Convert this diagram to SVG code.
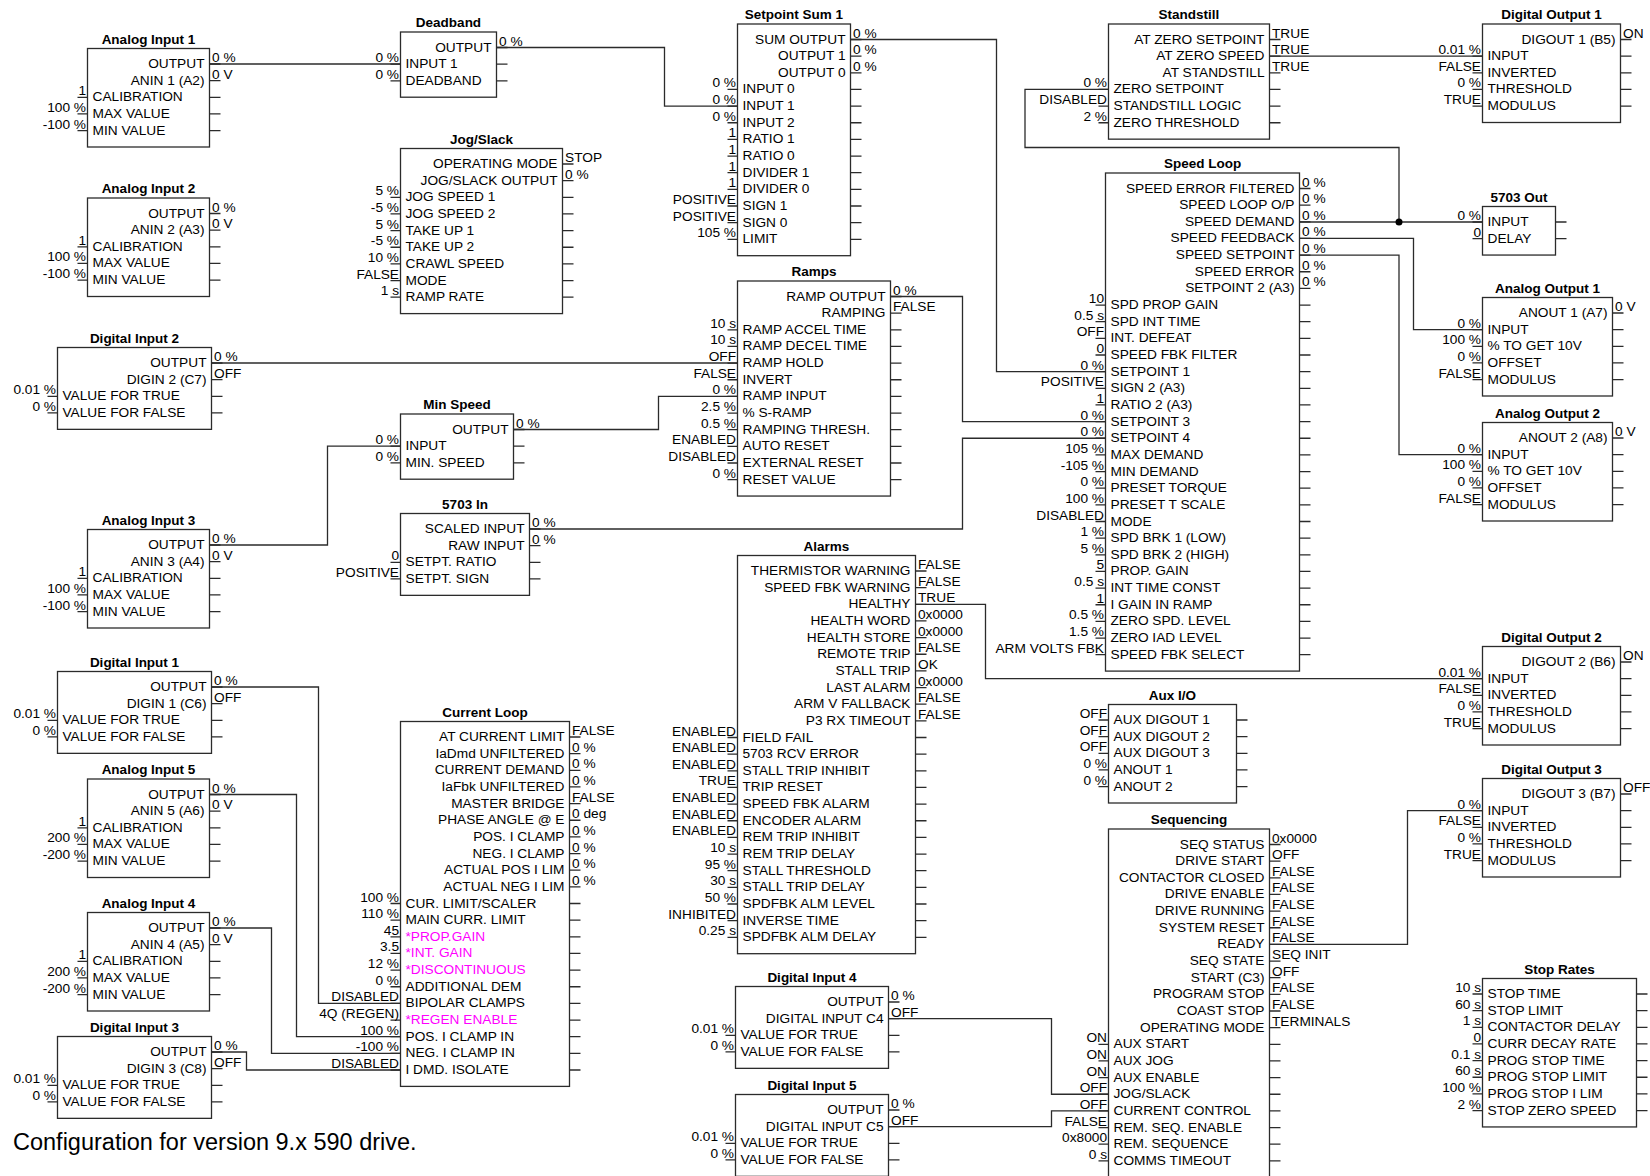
<svg xmlns="http://www.w3.org/2000/svg" width="1650" height="1176" viewBox="0 0 1650 1176">
<style>
text{font-family:"Liberation Sans",Arial,sans-serif;font-size:13.7px;fill:#000}
.t{font-weight:bold;font-size:13.5px;text-anchor:middle}
.r{text-anchor:end}
.m{fill:#f0f}
.b{fill:#fff;stroke:#2b2b2b;stroke-width:1.3}
.s{fill:none;stroke:#2b2b2b;stroke-width:1.3}
</style>
<rect width="1650" height="1176" fill="#fff"/>
<g id="connectors">
<path class="s" d="M209.5 64H400.5"/>
<path class="s" d="M496.5 47.5H664.5V106.1H737.5"/>
<path class="s" d="M211.5 363H737.5"/>
<path class="s" d="M209.5 545H327.5V446.15H400.5"/>
<path class="s" d="M513.5 429.5H658.5V396.4H737.5"/>
<path class="s" d="M850.5 39.5H996.5V371.65H1105.5"/>
<path class="s" d="M890.5 296.5H962.5V421.6H1105.5"/>
<path class="s" d="M529.5 529H962.5V438.25H1105.5"/>
<path class="s" d="M1269.5 56.15H1482.5"/>
<path class="s" d="M1299.5 222H1482.5"/>
<path class="s" d="M1399 222V147.5H1025V89.45H1108.5"/>
<path class="s" d="M1299.5 238.45H1413.5V329.65H1482.5"/>
<path class="s" d="M1299.5 255.1H1399V454.65H1482.5"/>
<path class="s" d="M915.5 604.3H985.5V678.65H1482.5"/>
<path class="s" d="M211.5 687H318.5V1003.4H400.5"/>
<path class="s" d="M209.5 794.5H296.5V1036.7H400.5"/>
<path class="s" d="M209.5 928H271.5V1053.35H400.5"/>
<path class="s" d="M211.5 1052H246.5V1070H400.5"/>
<path class="s" d="M888.5 1018.65H1051.5V1094.25H1108.5"/>
<path class="s" d="M888.5 1126.65H1051.5V1110.9H1108.5"/>
<path class="s" d="M1269.5 944.4H1407.5V810.65H1482.5"/>
<circle cx="1399" cy="222" r="3.5" fill="#000"/>
</g>

<g id="analog-input-1" transform="translate(87.5 48.5)">
<rect class="b" width="122" height="98.5"/>
<text class="t" x="61" y="-5">Analog Input 1</text>
<text class="r" x="117" y="19.5">OUTPUT</text><text class="r" x="117" y="36.15">ANIN 1 (A2)</text>
<text x="5" y="52.8">CALIBRATION</text><text x="5" y="69.45">MAX VALUE</text><text x="5" y="86.1">MIN VALUE</text>
<path class="s" d="M122 15.5h11m-11 16.65h11m-11 16.65h11m-11 16.65h11m-11 16.65h11M-10 48.8h10m-10 16.65h10m-10 16.65h10"/>
<text x="124.5" y="13.5">0 %</text><text x="124.5" y="30.15">0 V</text>
<text class="r" x="-1.5" y="46.8">1</text><text class="r" x="-1.5" y="63.45">100 %</text><text class="r" x="-1.5" y="80.1">-100 %</text>
</g>

<g id="analog-input-2" transform="translate(87.5 198)">
<rect class="b" width="122" height="98.5"/>
<text class="t" x="61" y="-5">Analog Input 2</text>
<text class="r" x="117" y="19.5">OUTPUT</text><text class="r" x="117" y="36.15">ANIN 2 (A3)</text>
<text x="5" y="52.8">CALIBRATION</text><text x="5" y="69.45">MAX VALUE</text><text x="5" y="86.1">MIN VALUE</text>
<path class="s" d="M122 15.5h11m-11 16.65h11m-11 16.65h11m-11 16.65h11m-11 16.65h11M-10 48.8h10m-10 16.65h10m-10 16.65h10"/>
<text x="124.5" y="13.5">0 %</text><text x="124.5" y="30.15">0 V</text>
<text class="r" x="-1.5" y="46.8">1</text><text class="r" x="-1.5" y="63.45">100 %</text><text class="r" x="-1.5" y="80.1">-100 %</text>
</g>

<g id="analog-input-3" transform="translate(87.5 529.5)">
<rect class="b" width="122" height="98.5"/>
<text class="t" x="61" y="-5">Analog Input 3</text>
<text class="r" x="117" y="19.5">OUTPUT</text><text class="r" x="117" y="36.15">ANIN 3 (A4)</text>
<text x="5" y="52.8">CALIBRATION</text><text x="5" y="69.45">MAX VALUE</text><text x="5" y="86.1">MIN VALUE</text>
<path class="s" d="M122 15.5h11m-11 16.65h11m-11 16.65h11m-11 16.65h11m-11 16.65h11M-10 48.8h10m-10 16.65h10m-10 16.65h10"/>
<text x="124.5" y="13.5">0 %</text><text x="124.5" y="30.15">0 V</text>
<text class="r" x="-1.5" y="46.8">1</text><text class="r" x="-1.5" y="63.45">100 %</text><text class="r" x="-1.5" y="80.1">-100 %</text>
</g>

<g id="analog-input-5" transform="translate(87.5 779)">
<rect class="b" width="122" height="98.5"/>
<text class="t" x="61" y="-5">Analog Input 5</text>
<text class="r" x="117" y="19.5">OUTPUT</text><text class="r" x="117" y="36.15">ANIN 5 (A6)</text>
<text x="5" y="52.8">CALIBRATION</text><text x="5" y="69.45">MAX VALUE</text><text x="5" y="86.1">MIN VALUE</text>
<path class="s" d="M122 15.5h11m-11 16.65h11m-11 16.65h11m-11 16.65h11m-11 16.65h11M-10 48.8h10m-10 16.65h10m-10 16.65h10"/>
<text x="124.5" y="13.5">0 %</text><text x="124.5" y="30.15">0 V</text>
<text class="r" x="-1.5" y="46.8">1</text><text class="r" x="-1.5" y="63.45">200 %</text><text class="r" x="-1.5" y="80.1">-200 %</text>
</g>

<g id="analog-input-4" transform="translate(87.5 912.5)">
<rect class="b" width="122" height="98.5"/>
<text class="t" x="61" y="-5">Analog Input 4</text>
<text class="r" x="117" y="19.5">OUTPUT</text><text class="r" x="117" y="36.15">ANIN 4 (A5)</text>
<text x="5" y="52.8">CALIBRATION</text><text x="5" y="69.45">MAX VALUE</text><text x="5" y="86.1">MIN VALUE</text>
<path class="s" d="M122 15.5h11m-11 16.65h11m-11 16.65h11m-11 16.65h11m-11 16.65h11M-10 48.8h10m-10 16.65h10m-10 16.65h10"/>
<text x="124.5" y="13.5">0 %</text><text x="124.5" y="30.15">0 V</text>
<text class="r" x="-1.5" y="46.8">1</text><text class="r" x="-1.5" y="63.45">200 %</text><text class="r" x="-1.5" y="80.1">-200 %</text>
</g>

<g id="digital-input-2" transform="translate(57.5 347.5)">
<rect class="b" width="154" height="81.85"/>
<text class="t" x="77" y="-5">Digital Input 2</text>
<text class="r" x="149" y="19.5">OUTPUT</text><text class="r" x="149" y="36.15">DIGIN 2 (C7)</text>
<text x="5" y="52.8">VALUE FOR TRUE</text><text x="5" y="69.45">VALUE FOR FALSE</text>
<path class="s" d="M154 15.5h11m-11 16.65h11m-11 16.65h11m-11 16.65h11M-10 48.8h10m-10 16.65h10"/>
<text x="156.5" y="13.5">0 %</text><text x="156.5" y="30.15">OFF</text>
<text class="r" x="-1.5" y="46.8">0.01 %</text><text class="r" x="-1.5" y="63.45">0 %</text>
</g>

<g id="digital-input-1" transform="translate(57.5 671.5)">
<rect class="b" width="154" height="81.85"/>
<text class="t" x="77" y="-5">Digital Input 1</text>
<text class="r" x="149" y="19.5">OUTPUT</text><text class="r" x="149" y="36.15">DIGIN 1 (C6)</text>
<text x="5" y="52.8">VALUE FOR TRUE</text><text x="5" y="69.45">VALUE FOR FALSE</text>
<path class="s" d="M154 15.5h11m-11 16.65h11m-11 16.65h11m-11 16.65h11M-10 48.8h10m-10 16.65h10"/>
<text x="156.5" y="13.5">0 %</text><text x="156.5" y="30.15">OFF</text>
<text class="r" x="-1.5" y="46.8">0.01 %</text><text class="r" x="-1.5" y="63.45">0 %</text>
</g>

<g id="digital-input-3" transform="translate(57.5 1036.5)">
<rect class="b" width="154" height="81.85"/>
<text class="t" x="77" y="-5">Digital Input 3</text>
<text class="r" x="149" y="19.5">OUTPUT</text><text class="r" x="149" y="36.15">DIGIN 3 (C8)</text>
<text x="5" y="52.8">VALUE FOR TRUE</text><text x="5" y="69.45">VALUE FOR FALSE</text>
<path class="s" d="M154 15.5h11m-11 16.65h11m-11 16.65h11m-11 16.65h11M-10 48.8h10m-10 16.65h10"/>
<text x="156.5" y="13.5">0 %</text><text x="156.5" y="30.15">OFF</text>
<text class="r" x="-1.5" y="46.8">0.01 %</text><text class="r" x="-1.5" y="63.45">0 %</text>
</g>

<g id="deadband" transform="translate(400.5 32)">
<rect class="b" width="96" height="65.2"/>
<text class="t" x="48" y="-5">Deadband</text>
<text class="r" x="91" y="19.5">OUTPUT</text>
<text x="5" y="36.15">INPUT 1</text><text x="5" y="52.8">DEADBAND</text>
<path class="s" d="M96 15.5h11m-11 16.65h11m-11 16.65h11M-10 32.15h10m-10 16.65h10"/>
<text x="98.5" y="13.5">0 %</text>
<text class="r" x="-1.5" y="30.15">0 %</text><text class="r" x="-1.5" y="46.8">0 %</text>
</g>

<g id="jog-slack" transform="translate(400.5 148.5)">
<rect class="b" width="162" height="165.1"/>
<text class="t" x="81" y="-5">Jog/Slack</text>
<text class="r" x="157" y="19.5">OPERATING MODE</text><text class="r" x="157" y="36.15">JOG/SLACK OUTPUT</text>
<text x="5" y="52.8">JOG SPEED 1</text><text x="5" y="69.45">JOG SPEED 2</text><text x="5" y="86.1">TAKE UP 1</text><text x="5" y="102.75">TAKE UP 2</text><text x="5" y="119.4">CRAWL SPEED</text><text x="5" y="136.05">MODE</text><text x="5" y="152.7">RAMP RATE</text>
<path class="s" d="M162 15.5h11m-11 16.65h11m-11 16.65h11m-11 16.65h11m-11 16.65h11m-11 16.65h11m-11 16.65h11m-11 16.65h11m-11 16.65h11M-10 48.8h10m-10 16.65h10m-10 16.65h10m-10 16.65h10m-10 16.65h10m-10 16.65h10m-10 16.65h10"/>
<text x="164.5" y="13.5">STOP</text><text x="164.5" y="30.15">0 %</text>
<text class="r" x="-1.5" y="46.8">5 %</text><text class="r" x="-1.5" y="63.45">-5 %</text><text class="r" x="-1.5" y="80.1">5 %</text><text class="r" x="-1.5" y="96.75">-5 %</text><text class="r" x="-1.5" y="113.4">10 %</text><text class="r" x="-1.5" y="130.05">FALSE</text><text class="r" x="-1.5" y="146.7">1 s</text>
</g>

<g id="min-speed" transform="translate(400.5 414)">
<rect class="b" width="113" height="65.2"/>
<text class="t" x="56.5" y="-5">Min Speed</text>
<text class="r" x="108" y="19.5">OUTPUT</text>
<text x="5" y="36.15">INPUT</text><text x="5" y="52.8">MIN. SPEED</text>
<path class="s" d="M113 15.5h11m-11 16.65h11m-11 16.65h11M-10 32.15h10m-10 16.65h10"/>
<text x="115.5" y="13.5">0 %</text>
<text class="r" x="-1.5" y="30.15">0 %</text><text class="r" x="-1.5" y="46.8">0 %</text>
</g>

<g id="in-5703" transform="translate(400.5 513.5)">
<rect class="b" width="129" height="81.85"/>
<text class="t" x="64.5" y="-5">5703 In</text>
<text class="r" x="124" y="19.5">SCALED INPUT</text><text class="r" x="124" y="36.15">RAW INPUT</text>
<text x="5" y="52.8">SETPT. RATIO</text><text x="5" y="69.45">SETPT. SIGN</text>
<path class="s" d="M129 15.5h11m-11 16.65h11m-11 16.65h11m-11 16.65h11M-10 48.8h10m-10 16.65h10"/>
<text x="131.5" y="13.5">0 %</text><text x="131.5" y="30.15">0 %</text>
<text class="r" x="-1.5" y="46.8">0</text><text class="r" x="-1.5" y="63.45">POSITIVE</text>
</g>

<g id="current-loop" transform="translate(400.5 721.5)">
<rect class="b" width="169" height="364.9"/>
<text class="t" x="84.5" y="-5">Current Loop</text>
<text class="r" x="164" y="19.5">AT CURRENT LIMIT</text><text class="r" x="164" y="36.15">IaDmd UNFILTERED</text><text class="r" x="164" y="52.8">CURRENT DEMAND</text><text class="r" x="164" y="69.45">IaFbk UNFILTERED</text><text class="r" x="164" y="86.1">MASTER BRIDGE</text><text class="r" x="164" y="102.75">PHASE ANGLE @ E</text><text class="r" x="164" y="119.4">POS. I CLAMP</text><text class="r" x="164" y="136.05">NEG. I CLAMP</text><text class="r" x="164" y="152.7">ACTUAL POS I LIM</text><text class="r" x="164" y="169.35">ACTUAL NEG I LIM</text>
<text x="5" y="186">CUR. LIMIT/SCALER</text><text x="5" y="202.65">MAIN CURR. LIMIT</text><text class="m" x="5" y="219.3">*PROP.GAIN</text><text class="m" x="5" y="235.95">*INT. GAIN</text><text class="m" x="5" y="252.6">*DISCONTINUOUS</text><text x="5" y="269.25">ADDITIONAL DEM</text><text x="5" y="285.9">BIPOLAR CLAMPS</text><text class="m" x="5" y="302.55">*REGEN ENABLE</text><text x="5" y="319.2">POS. I CLAMP IN</text><text x="5" y="335.85">NEG. I CLAMP IN</text><text x="5" y="352.5">I DMD. ISOLATE</text>
<path class="s" d="M169 15.5h11m-11 16.65h11m-11 16.65h11m-11 16.65h11m-11 16.65h11m-11 16.65h11m-11 16.65h11m-11 16.65h11m-11 16.65h11m-11 16.65h11m-11 16.65h11m-11 16.65h11m-11 16.65h11m-11 16.65h11m-11 16.65h11m-11 16.65h11m-11 16.65h11m-11 16.65h11m-11 16.65h11m-11 16.65h11m-11 16.65h11M-10 182h10m-10 16.65h10m-10 16.65h10m-10 16.65h10m-10 16.65h10m-10 16.65h10m-10 16.65h10m-10 16.65h10m-10 16.65h10m-10 16.65h10m-10 16.65h10"/>
<text x="171.5" y="13.5">FALSE</text><text x="171.5" y="30.15">0 %</text><text x="171.5" y="46.8">0 %</text><text x="171.5" y="63.45">0 %</text><text x="171.5" y="80.1">FALSE</text><text x="171.5" y="96.75">0 deg</text><text x="171.5" y="113.4">0 %</text><text x="171.5" y="130.05">0 %</text><text x="171.5" y="146.7">0 %</text><text x="171.5" y="163.35">0 %</text>
<text class="r" x="-1.5" y="180">100 %</text><text class="r" x="-1.5" y="196.65">110 %</text><text class="r" x="-1.5" y="213.3">45</text><text class="r" x="-1.5" y="229.95">3.5</text><text class="r" x="-1.5" y="246.6">12 %</text><text class="r" x="-1.5" y="263.25">0 %</text><text class="r" x="-1.5" y="279.9">DISABLED</text><text class="r" x="-1.5" y="296.55">4Q (REGEN)</text><text class="r" x="-1.5" y="313.2">100 %</text><text class="r" x="-1.5" y="329.85">-100 %</text><text class="r" x="-1.5" y="346.5">DISABLED</text>
</g>

<g id="setpoint-sum-1" transform="translate(737.5 24)">
<rect class="b" width="113" height="231.7"/>
<text class="t" x="56.5" y="-5">Setpoint Sum 1</text>
<text class="r" x="108" y="19.5">SUM OUTPUT</text><text class="r" x="108" y="36.15">OUTPUT 1</text><text class="r" x="108" y="52.8">OUTPUT 0</text>
<text x="5" y="69.45">INPUT 0</text><text x="5" y="86.1">INPUT 1</text><text x="5" y="102.75">INPUT 2</text><text x="5" y="119.4">RATIO 1</text><text x="5" y="136.05">RATIO 0</text><text x="5" y="152.7">DIVIDER 1</text><text x="5" y="169.35">DIVIDER 0</text><text x="5" y="186">SIGN 1</text><text x="5" y="202.65">SIGN 0</text><text x="5" y="219.3">LIMIT</text>
<path class="s" d="M113 15.5h11m-11 16.65h11m-11 16.65h11m-11 16.65h11m-11 16.65h11m-11 16.65h11m-11 16.65h11m-11 16.65h11m-11 16.65h11m-11 16.65h11m-11 16.65h11m-11 16.65h11m-11 16.65h11M-10 65.45h10m-10 16.65h10m-10 16.65h10m-10 16.65h10m-10 16.65h10m-10 16.65h10m-10 16.65h10m-10 16.65h10m-10 16.65h10m-10 16.65h10"/>
<text x="115.5" y="13.5">0 %</text><text x="115.5" y="30.15">0 %</text><text x="115.5" y="46.8">0 %</text>
<text class="r" x="-1.5" y="63.45">0 %</text><text class="r" x="-1.5" y="80.1">0 %</text><text class="r" x="-1.5" y="96.75">0 %</text><text class="r" x="-1.5" y="113.4">1</text><text class="r" x="-1.5" y="130.05">1</text><text class="r" x="-1.5" y="146.7">1</text><text class="r" x="-1.5" y="163.35">1</text><text class="r" x="-1.5" y="180">POSITIVE</text><text class="r" x="-1.5" y="196.65">POSITIVE</text><text class="r" x="-1.5" y="213.3">105 %</text>
</g>

<g id="ramps" transform="translate(737.5 281)">
<rect class="b" width="153" height="215.05"/>
<text class="t" x="76.5" y="-5">Ramps</text>
<text class="r" x="148" y="19.5">RAMP OUTPUT</text><text class="r" x="148" y="36.15">RAMPING</text>
<text x="5" y="52.8">RAMP ACCEL TIME</text><text x="5" y="69.45">RAMP DECEL TIME</text><text x="5" y="86.1">RAMP HOLD</text><text x="5" y="102.75">INVERT</text><text x="5" y="119.4">RAMP INPUT</text><text x="5" y="136.05">% S-RAMP</text><text x="5" y="152.7">RAMPING THRESH.</text><text x="5" y="169.35">AUTO RESET</text><text x="5" y="186">EXTERNAL RESET</text><text x="5" y="202.65">RESET VALUE</text>
<path class="s" d="M153 15.5h11m-11 16.65h11m-11 16.65h11m-11 16.65h11m-11 16.65h11m-11 16.65h11m-11 16.65h11m-11 16.65h11m-11 16.65h11m-11 16.65h11m-11 16.65h11m-11 16.65h11M-10 48.8h10m-10 16.65h10m-10 16.65h10m-10 16.65h10m-10 16.65h10m-10 16.65h10m-10 16.65h10m-10 16.65h10m-10 16.65h10m-10 16.65h10"/>
<text x="155.5" y="13.5">0 %</text><text x="155.5" y="30.15">FALSE</text>
<text class="r" x="-1.5" y="46.8">10 s</text><text class="r" x="-1.5" y="63.45">10 s</text><text class="r" x="-1.5" y="80.1">OFF</text><text class="r" x="-1.5" y="96.75">FALSE</text><text class="r" x="-1.5" y="113.4">0 %</text><text class="r" x="-1.5" y="130.05">2.5 %</text><text class="r" x="-1.5" y="146.7">0.5 %</text><text class="r" x="-1.5" y="163.35">ENABLED</text><text class="r" x="-1.5" y="180">DISABLED</text><text class="r" x="-1.5" y="196.65">0 %</text>
</g>

<g id="alarms" transform="translate(737.5 555.5)">
<rect class="b" width="178" height="398.2"/>
<text class="t" x="89" y="-5">Alarms</text>
<text class="r" x="173" y="19.5">THERMISTOR WARNING</text><text class="r" x="173" y="36.15">SPEED FBK WARNING</text><text class="r" x="173" y="52.8">HEALTHY</text><text class="r" x="173" y="69.45">HEALTH WORD</text><text class="r" x="173" y="86.1">HEALTH STORE</text><text class="r" x="173" y="102.75">REMOTE TRIP</text><text class="r" x="173" y="119.4">STALL TRIP</text><text class="r" x="173" y="136.05">LAST ALARM</text><text class="r" x="173" y="152.7">ARM V FALLBACK</text><text class="r" x="173" y="169.35">P3 RX TIMEOUT</text>
<text x="5" y="186">FIELD FAIL</text><text x="5" y="202.65">5703 RCV ERROR</text><text x="5" y="219.3">STALL TRIP INHIBIT</text><text x="5" y="235.95">TRIP RESET</text><text x="5" y="252.6">SPEED FBK ALARM</text><text x="5" y="269.25">ENCODER ALARM</text><text x="5" y="285.9">REM TRIP INHIBIT</text><text x="5" y="302.55">REM TRIP DELAY</text><text x="5" y="319.2">STALL THRESHOLD</text><text x="5" y="335.85">STALL TRIP DELAY</text><text x="5" y="352.5">SPDFBK ALM LEVEL</text><text x="5" y="369.15">INVERSE TIME</text><text x="5" y="385.8">SPDFBK ALM DELAY</text>
<path class="s" d="M178 15.5h11m-11 16.65h11m-11 16.65h11m-11 16.65h11m-11 16.65h11m-11 16.65h11m-11 16.65h11m-11 16.65h11m-11 16.65h11m-11 16.65h11m-11 16.65h11m-11 16.65h11m-11 16.65h11m-11 16.65h11m-11 16.65h11m-11 16.65h11m-11 16.65h11m-11 16.65h11m-11 16.65h11m-11 16.65h11m-11 16.65h11m-11 16.65h11m-11 16.65h11M-10 182h10m-10 16.65h10m-10 16.65h10m-10 16.65h10m-10 16.65h10m-10 16.65h10m-10 16.65h10m-10 16.65h10m-10 16.65h10m-10 16.65h10m-10 16.65h10m-10 16.65h10m-10 16.65h10"/>
<text x="180.5" y="13.5">FALSE</text><text x="180.5" y="30.15">FALSE</text><text x="180.5" y="46.8">TRUE</text><text x="180.5" y="63.45">0x0000</text><text x="180.5" y="80.1">0x0000</text><text x="180.5" y="96.75">FALSE</text><text x="180.5" y="113.4">OK</text><text x="180.5" y="130.05">0x0000</text><text x="180.5" y="146.7">FALSE</text><text x="180.5" y="163.35">FALSE</text>
<text class="r" x="-1.5" y="180">ENABLED</text><text class="r" x="-1.5" y="196.65">ENABLED</text><text class="r" x="-1.5" y="213.3">ENABLED</text><text class="r" x="-1.5" y="229.95">TRUE</text><text class="r" x="-1.5" y="246.6">ENABLED</text><text class="r" x="-1.5" y="263.25">ENABLED</text><text class="r" x="-1.5" y="279.9">ENABLED</text><text class="r" x="-1.5" y="296.55">10 s</text><text class="r" x="-1.5" y="313.2">95 %</text><text class="r" x="-1.5" y="329.85">30 s</text><text class="r" x="-1.5" y="346.5">50 %</text><text class="r" x="-1.5" y="363.15">INHIBITED</text><text class="r" x="-1.5" y="379.8">0.25 s</text>
</g>

<g id="digital-input-4" transform="translate(735.5 986.5)">
<rect class="b" width="153" height="81.85"/>
<text class="t" x="76.5" y="-5">Digital Input 4</text>
<text class="r" x="148" y="19.5">OUTPUT</text><text class="r" x="148" y="36.15">DIGITAL INPUT C4</text>
<text x="5" y="52.8">VALUE FOR TRUE</text><text x="5" y="69.45">VALUE FOR FALSE</text>
<path class="s" d="M153 15.5h11m-11 16.65h11m-11 16.65h11m-11 16.65h11M-10 48.8h10m-10 16.65h10"/>
<text x="155.5" y="13.5">0 %</text><text x="155.5" y="30.15">OFF</text>
<text class="r" x="-1.5" y="46.8">0.01 %</text><text class="r" x="-1.5" y="63.45">0 %</text>
</g>

<g id="digital-input-5" transform="translate(735.5 1094.5)">
<rect class="b" width="153" height="81.85"/>
<text class="t" x="76.5" y="-5">Digital Input 5</text>
<text class="r" x="148" y="19.5">OUTPUT</text><text class="r" x="148" y="36.15">DIGITAL INPUT C5</text>
<text x="5" y="52.8">VALUE FOR TRUE</text><text x="5" y="69.45">VALUE FOR FALSE</text>
<path class="s" d="M153 15.5h11m-11 16.65h11m-11 16.65h11m-11 16.65h11M-10 48.8h10m-10 16.65h10"/>
<text x="155.5" y="13.5">0 %</text><text x="155.5" y="30.15">OFF</text>
<text class="r" x="-1.5" y="46.8">0.01 %</text><text class="r" x="-1.5" y="63.45">0 %</text>
</g>

<g id="standstill" transform="translate(1108.5 24)">
<rect class="b" width="161" height="115.15"/>
<text class="t" x="80.5" y="-5">Standstill</text>
<text class="r" x="156" y="19.5">AT ZERO SETPOINT</text><text class="r" x="156" y="36.15">AT ZERO SPEED</text><text class="r" x="156" y="52.8">AT STANDSTILL</text>
<text x="5" y="69.45">ZERO SETPOINT</text><text x="5" y="86.1">STANDSTILL LOGIC</text><text x="5" y="102.75">ZERO THRESHOLD</text>
<path class="s" d="M161 15.5h11m-11 16.65h11m-11 16.65h11m-11 16.65h11m-11 16.65h11m-11 16.65h11M-10 65.45h10m-10 16.65h10m-10 16.65h10"/>
<text x="163.5" y="13.5">TRUE</text><text x="163.5" y="30.15">TRUE</text><text x="163.5" y="46.8">TRUE</text>
<text class="r" x="-1.5" y="63.45">0 %</text><text class="r" x="-1.5" y="80.1">DISABLED</text><text class="r" x="-1.5" y="96.75">2 %</text>
</g>

<g id="speed-loop" transform="translate(1105.5 173)">
<rect class="b" width="194" height="498.1"/>
<text class="t" x="97" y="-5">Speed Loop</text>
<text class="r" x="189" y="19.5">SPEED ERROR FILTERED</text><text class="r" x="189" y="36.15">SPEED LOOP O/P</text><text class="r" x="189" y="52.8">SPEED DEMAND</text><text class="r" x="189" y="69.45">SPEED FEEDBACK</text><text class="r" x="189" y="86.1">SPEED SETPOINT</text><text class="r" x="189" y="102.75">SPEED ERROR</text><text class="r" x="189" y="119.4">SETPOINT 2 (A3)</text>
<text x="5" y="136.05">SPD PROP GAIN</text><text x="5" y="152.7">SPD INT TIME</text><text x="5" y="169.35">INT. DEFEAT</text><text x="5" y="186">SPEED FBK FILTER</text><text x="5" y="202.65">SETPOINT 1</text><text x="5" y="219.3">SIGN 2 (A3)</text><text x="5" y="235.95">RATIO 2 (A3)</text><text x="5" y="252.6">SETPOINT 3</text><text x="5" y="269.25">SETPOINT 4</text><text x="5" y="285.9">MAX DEMAND</text><text x="5" y="302.55">MIN DEMAND</text><text x="5" y="319.2">PRESET TORQUE</text><text x="5" y="335.85">PRESET T SCALE</text><text x="5" y="352.5">MODE</text><text x="5" y="369.15">SPD BRK 1 (LOW)</text><text x="5" y="385.8">SPD BRK 2 (HIGH)</text><text x="5" y="402.45">PROP. GAIN</text><text x="5" y="419.1">INT TIME CONST</text><text x="5" y="435.75">I GAIN IN RAMP</text><text x="5" y="452.4">ZERO SPD. LEVEL</text><text x="5" y="469.05">ZERO IAD LEVEL</text><text x="5" y="485.7">SPEED FBK SELECT</text>
<path class="s" d="M194 15.5h11m-11 16.65h11m-11 16.65h11m-11 16.65h11m-11 16.65h11m-11 16.65h11m-11 16.65h11m-11 16.65h11m-11 16.65h11m-11 16.65h11m-11 16.65h11m-11 16.65h11m-11 16.65h11m-11 16.65h11m-11 16.65h11m-11 16.65h11m-11 16.65h11m-11 16.65h11m-11 16.65h11m-11 16.65h11m-11 16.65h11m-11 16.65h11m-11 16.65h11m-11 16.65h11m-11 16.65h11m-11 16.65h11m-11 16.65h11m-11 16.65h11m-11 16.65h11M-10 132.05h10m-10 16.65h10m-10 16.65h10m-10 16.65h10m-10 16.65h10m-10 16.65h10m-10 16.65h10m-10 16.65h10m-10 16.65h10m-10 16.65h10m-10 16.65h10m-10 16.65h10m-10 16.65h10m-10 16.65h10m-10 16.65h10m-10 16.65h10m-10 16.65h10m-10 16.65h10m-10 16.65h10m-10 16.65h10m-10 16.65h10m-10 16.65h10"/>
<text x="196.5" y="13.5">0 %</text><text x="196.5" y="30.15">0 %</text><text x="196.5" y="46.8">0 %</text><text x="196.5" y="63.45">0 %</text><text x="196.5" y="80.1">0 %</text><text x="196.5" y="96.75">0 %</text><text x="196.5" y="113.4">0 %</text>
<text class="r" x="-1.5" y="130.05">10</text><text class="r" x="-1.5" y="146.7">0.5 s</text><text class="r" x="-1.5" y="163.35">OFF</text><text class="r" x="-1.5" y="180">0</text><text class="r" x="-1.5" y="196.65">0 %</text><text class="r" x="-1.5" y="213.3">POSITIVE</text><text class="r" x="-1.5" y="229.95">1</text><text class="r" x="-1.5" y="246.6">0 %</text><text class="r" x="-1.5" y="263.25">0 %</text><text class="r" x="-1.5" y="279.9">105 %</text><text class="r" x="-1.5" y="296.55">-105 %</text><text class="r" x="-1.5" y="313.2">0 %</text><text class="r" x="-1.5" y="329.85">100 %</text><text class="r" x="-1.5" y="346.5">DISABLED</text><text class="r" x="-1.5" y="363.15">1 %</text><text class="r" x="-1.5" y="379.8">5 %</text><text class="r" x="-1.5" y="396.45">5</text><text class="r" x="-1.5" y="413.1">0.5 s</text><text class="r" x="-1.5" y="429.75">1</text><text class="r" x="-1.5" y="446.4">0.5 %</text><text class="r" x="-1.5" y="463.05">1.5 %</text><text class="r" x="-1.5" y="479.7">ARM VOLTS FBK</text>
</g>

<g id="aux-io" transform="translate(1108.5 704.5)">
<rect class="b" width="128" height="98.5"/>
<text class="t" x="64" y="-5">Aux I/O</text>
<text x="5" y="19.5">AUX DIGOUT 1</text><text x="5" y="36.15">AUX DIGOUT 2</text><text x="5" y="52.8">AUX DIGOUT 3</text><text x="5" y="69.45">ANOUT 1</text><text x="5" y="86.1">ANOUT 2</text>
<path class="s" d="M128 15.5h11m-11 16.65h11m-11 16.65h11m-11 16.65h11m-11 16.65h11M-10 15.5h10m-10 16.65h10m-10 16.65h10m-10 16.65h10m-10 16.65h10"/>
<text class="r" x="-1.5" y="13.5">OFF</text><text class="r" x="-1.5" y="30.15">OFF</text><text class="r" x="-1.5" y="46.8">OFF</text><text class="r" x="-1.5" y="63.45">0 %</text><text class="r" x="-1.5" y="80.1">0 %</text>
</g>

<g id="sequencing" transform="translate(1108.5 829)">
<rect class="b" width="161" height="348.25"/>
<text class="t" x="80.5" y="-5">Sequencing</text>
<text class="r" x="156" y="19.5">SEQ STATUS</text><text class="r" x="156" y="36.15">DRIVE START</text><text class="r" x="156" y="52.8">CONTACTOR CLOSED</text><text class="r" x="156" y="69.45">DRIVE ENABLE</text><text class="r" x="156" y="86.1">DRIVE RUNNING</text><text class="r" x="156" y="102.75">SYSTEM RESET</text><text class="r" x="156" y="119.4">READY</text><text class="r" x="156" y="136.05">SEQ STATE</text><text class="r" x="156" y="152.7">START (C3)</text><text class="r" x="156" y="169.35">PROGRAM STOP</text><text class="r" x="156" y="186">COAST STOP</text><text class="r" x="156" y="202.65">OPERATING MODE</text>
<text x="5" y="219.3">AUX START</text><text x="5" y="235.95">AUX JOG</text><text x="5" y="252.6">AUX ENABLE</text><text x="5" y="269.25">JOG/SLACK</text><text x="5" y="285.9">CURRENT CONTROL</text><text x="5" y="302.55">REM. SEQ. ENABLE</text><text x="5" y="319.2">REM. SEQUENCE</text><text x="5" y="335.85">COMMS TIMEOUT</text>
<path class="s" d="M161 15.5h11m-11 16.65h11m-11 16.65h11m-11 16.65h11m-11 16.65h11m-11 16.65h11m-11 16.65h11m-11 16.65h11m-11 16.65h11m-11 16.65h11m-11 16.65h11m-11 16.65h11m-11 16.65h11m-11 16.65h11m-11 16.65h11m-11 16.65h11m-11 16.65h11m-11 16.65h11m-11 16.65h11m-11 16.65h11M-10 215.3h10m-10 16.65h10m-10 16.65h10m-10 16.65h10m-10 16.65h10m-10 16.65h10m-10 16.65h10m-10 16.65h10"/>
<text x="163.5" y="13.5">0x0000</text><text x="163.5" y="30.15">OFF</text><text x="163.5" y="46.8">FALSE</text><text x="163.5" y="63.45">FALSE</text><text x="163.5" y="80.1">FALSE</text><text x="163.5" y="96.75">FALSE</text><text x="163.5" y="113.4">FALSE</text><text x="163.5" y="130.05">SEQ INIT</text><text x="163.5" y="146.7">OFF</text><text x="163.5" y="163.35">FALSE</text><text x="163.5" y="180">FALSE</text><text x="163.5" y="196.65">TERMINALS</text>
<text class="r" x="-1.5" y="213.3">ON</text><text class="r" x="-1.5" y="229.95">ON</text><text class="r" x="-1.5" y="246.6">ON</text><text class="r" x="-1.5" y="263.25">OFF</text><text class="r" x="-1.5" y="279.9">OFF</text><text class="r" x="-1.5" y="296.55">FALSE</text><text class="r" x="-1.5" y="313.2">0x8000</text><text class="r" x="-1.5" y="329.85">0 s</text>
</g>

<g id="digital-output-1" transform="translate(1482.5 24)">
<rect class="b" width="138" height="98.5"/>
<text class="t" x="69" y="-5">Digital Output 1</text>
<text class="r" x="133" y="19.5">DIGOUT 1 (B5)</text>
<text x="5" y="36.15">INPUT</text><text x="5" y="52.8">INVERTED</text><text x="5" y="69.45">THRESHOLD</text><text x="5" y="86.1">MODULUS</text>
<path class="s" d="M138 15.5h11m-11 16.65h11m-11 16.65h11m-11 16.65h11m-11 16.65h11M-10 32.15h10m-10 16.65h10m-10 16.65h10m-10 16.65h10"/>
<text x="140.5" y="13.5">ON</text>
<text class="r" x="-1.5" y="30.15">0.01 %</text><text class="r" x="-1.5" y="46.8">FALSE</text><text class="r" x="-1.5" y="63.45">0 %</text><text class="r" x="-1.5" y="80.1">TRUE</text>
</g>

<g id="out-5703" transform="translate(1482.5 206.5)">
<rect class="b" width="73" height="48.55"/>
<text class="t" x="36.5" y="-5">5703 Out</text>
<text x="5" y="19.5">INPUT</text><text x="5" y="36.15">DELAY</text>
<path class="s" d="M73 15.5h11m-11 16.65h11M-10 15.5h10m-10 16.65h10"/>
<text class="r" x="-1.5" y="13.5">0 %</text><text class="r" x="-1.5" y="30.15">0</text>
</g>

<g id="analog-output-1" transform="translate(1482.5 297.5)">
<rect class="b" width="130" height="98.5"/>
<text class="t" x="65" y="-5">Analog Output 1</text>
<text class="r" x="125" y="19.5">ANOUT 1 (A7)</text>
<text x="5" y="36.15">INPUT</text><text x="5" y="52.8">% TO GET 10V</text><text x="5" y="69.45">OFFSET</text><text x="5" y="86.1">MODULUS</text>
<path class="s" d="M130 15.5h11m-11 16.65h11m-11 16.65h11m-11 16.65h11m-11 16.65h11M-10 32.15h10m-10 16.65h10m-10 16.65h10m-10 16.65h10"/>
<text x="132.5" y="13.5">0 V</text>
<text class="r" x="-1.5" y="30.15">0 %</text><text class="r" x="-1.5" y="46.8">100 %</text><text class="r" x="-1.5" y="63.45">0 %</text><text class="r" x="-1.5" y="80.1">FALSE</text>
</g>

<g id="analog-output-2" transform="translate(1482.5 422.5)">
<rect class="b" width="130" height="98.5"/>
<text class="t" x="65" y="-5">Analog Output 2</text>
<text class="r" x="125" y="19.5">ANOUT 2 (A8)</text>
<text x="5" y="36.15">INPUT</text><text x="5" y="52.8">% TO GET 10V</text><text x="5" y="69.45">OFFSET</text><text x="5" y="86.1">MODULUS</text>
<path class="s" d="M130 15.5h11m-11 16.65h11m-11 16.65h11m-11 16.65h11m-11 16.65h11M-10 32.15h10m-10 16.65h10m-10 16.65h10m-10 16.65h10"/>
<text x="132.5" y="13.5">0 V</text>
<text class="r" x="-1.5" y="30.15">0 %</text><text class="r" x="-1.5" y="46.8">100 %</text><text class="r" x="-1.5" y="63.45">0 %</text><text class="r" x="-1.5" y="80.1">FALSE</text>
</g>

<g id="digital-output-2" transform="translate(1482.5 646.5)">
<rect class="b" width="138" height="98.5"/>
<text class="t" x="69" y="-5">Digital Output 2</text>
<text class="r" x="133" y="19.5">DIGOUT 2 (B6)</text>
<text x="5" y="36.15">INPUT</text><text x="5" y="52.8">INVERTED</text><text x="5" y="69.45">THRESHOLD</text><text x="5" y="86.1">MODULUS</text>
<path class="s" d="M138 15.5h11m-11 16.65h11m-11 16.65h11m-11 16.65h11m-11 16.65h11M-10 32.15h10m-10 16.65h10m-10 16.65h10m-10 16.65h10"/>
<text x="140.5" y="13.5">ON</text>
<text class="r" x="-1.5" y="30.15">0.01 %</text><text class="r" x="-1.5" y="46.8">FALSE</text><text class="r" x="-1.5" y="63.45">0 %</text><text class="r" x="-1.5" y="80.1">TRUE</text>
</g>

<g id="digital-output-3" transform="translate(1482.5 778.5)">
<rect class="b" width="138" height="98.5"/>
<text class="t" x="69" y="-5">Digital Output 3</text>
<text class="r" x="133" y="19.5">DIGOUT 3 (B7)</text>
<text x="5" y="36.15">INPUT</text><text x="5" y="52.8">INVERTED</text><text x="5" y="69.45">THRESHOLD</text><text x="5" y="86.1">MODULUS</text>
<path class="s" d="M138 15.5h11m-11 16.65h11m-11 16.65h11m-11 16.65h11m-11 16.65h11M-10 32.15h10m-10 16.65h10m-10 16.65h10m-10 16.65h10"/>
<text x="140.5" y="13.5">OFF</text>
<text class="r" x="-1.5" y="30.15">0 %</text><text class="r" x="-1.5" y="46.8">FALSE</text><text class="r" x="-1.5" y="63.45">0 %</text><text class="r" x="-1.5" y="80.1">TRUE</text>
</g>

<g id="stop-rates" transform="translate(1482.5 978.5)">
<rect class="b" width="154" height="148.45"/>
<text class="t" x="77" y="-5">Stop Rates</text>
<text x="5" y="19.5">STOP TIME</text><text x="5" y="36.15">STOP LIMIT</text><text x="5" y="52.8">CONTACTOR DELAY</text><text x="5" y="69.45">CURR DECAY RATE</text><text x="5" y="86.1">PROG STOP TIME</text><text x="5" y="102.75">PROG STOP LIMIT</text><text x="5" y="119.4">PROG STOP I LIM</text><text x="5" y="136.05">STOP ZERO SPEED</text>
<path class="s" d="M154 15.5h11m-11 16.65h11m-11 16.65h11m-11 16.65h11m-11 16.65h11m-11 16.65h11m-11 16.65h11m-11 16.65h11M-10 15.5h10m-10 16.65h10m-10 16.65h10m-10 16.65h10m-10 16.65h10m-10 16.65h10m-10 16.65h10m-10 16.65h10"/>
<text class="r" x="-1.5" y="13.5">10 s</text><text class="r" x="-1.5" y="30.15">60 s</text><text class="r" x="-1.5" y="46.8">1 s</text><text class="r" x="-1.5" y="63.45">0</text><text class="r" x="-1.5" y="80.1">0.1 s</text><text class="r" x="-1.5" y="96.75">60 s</text><text class="r" x="-1.5" y="113.4">100 %</text><text class="r" x="-1.5" y="130.05">2 %</text>
</g>

<text x="13" y="1150" style="font-size:23.5px">Configuration for version 9.x 590 drive.</text>
</svg>
